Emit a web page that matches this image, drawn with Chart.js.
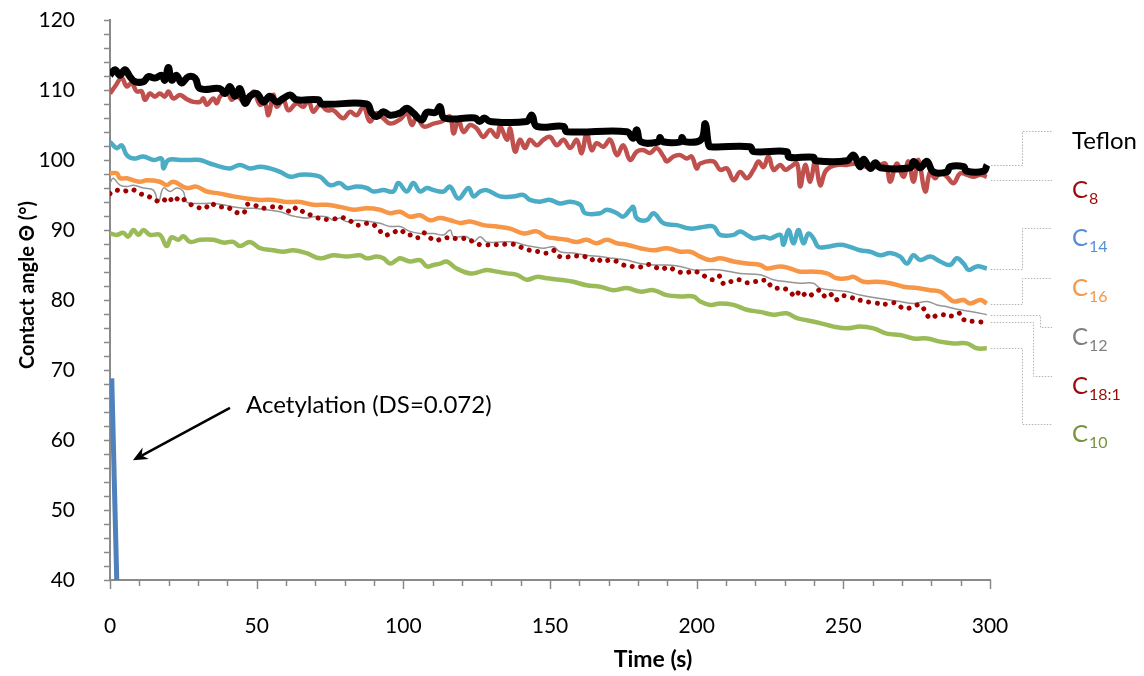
<!DOCTYPE html>
<html lang="en">
<head>
<meta charset="UTF-8" />
<title>Contact angle vs time</title>
<script src="https://cdn.jsdelivr.net/npm/chart.js"></script>
<style>
  html, body { margin: 0; padding: 0; background: #fff; }
  #wrap { width: 1144px; height: 676px; position: relative; }
</style>
</head>
<body>
<div id="wrap"><canvas id="grafik"></canvas></div>
<script>
// time (s) and contact angle (deg), one pair of arrays per sample
const teflonT = [0,1.7,3.4,5.1,6.8,8.5,11.4,13.1,15.3,17.6,18.7,19.9,21,22.7,24.4,26.7,29,30.7,37.5,39.2,40.9,42.6,44.3,46,47.7,50,52.3,54.5,56.8,59.1,61.4,63.6,71,72.2,87.5,89.2,90.9,93.2,95.5,98.9,101.2,103.4,106.3,108,111,112.5,114,124.5,126,127.6,129.6,142,143.8,145.5,154.6,155.7,176.2,178.4,179.6,181,187,187.5,188.5,194.5,195,196,201.5,202.9,204,204.6,218.2,219.4,230.7,231.5,239.8,240.5,251.2,253.5,255.7,256.9,259.2,260.9,262.6,272.8,274,276.2,278.5,280.7,285.3,286.4,291,292,297.8,299];
const teflonV = [112.1,112.9,112.1,112.9,111.9,111.2,111.2,111.9,111.7,112.1,111.4,113.2,111.4,112.1,111.0,111.9,111.7,110.2,110.2,109.5,110.5,109.1,110.2,108.1,109.1,109.5,108.3,109.1,108.3,108.8,109.3,108.6,108.6,108.0,108.0,106.7,106.2,106.9,106.4,106.7,107.4,106.7,105.7,106.8,106.8,107.6,106.0,106.0,105.5,106.0,105.5,105.5,106.4,104.8,104.8,104.05,104.05,103.1,104.3,102.6,102.6,103.2,102.6,102.6,103.2,102.6,102.9,105.2,102.3,101.9,101.9,101.2,101.2,100.4,100.4,99.9,99.9,100.7,99.05,100.1,98.8,99.6,98.9,98.9,99.8,98.9,99.8,98.3,98.3,99.05,99.05,98.4,98.4,99.3];

const c8T = [0,1.7,4,5.7,7.4,9.1,10.8,11.9,13.6,15.3,17,18.7,19.9,21.6,23.9,26.1,28.4,30.7,31.8,33,35.2,36.4,37.5,39.8,41.5,43.2,44.3,46.6,48.9,51.1,52.8,54,55.7,56.8,59.1,60.8,63.6,65.9,67.6,69.3,71.6,73.9,76.1,79.5,81.8,84.1,86.4,88.6,90.9,93.2,95.5,98.9,101.2,102.9,104.6,106.9,110.3,113.1,115.9,117.1,118.8,120.5,122.8,125,127.3,129.6,131.9,133,135.3,136.4,138.1,139.8,141.5,143.2,145.5,147.8,150,152.3,154.6,156.9,159.1,160.8,162.5,164.2,165.9,168.2,170.5,172.8,175,177.3,179.6,181.9,184.1,186.4,188.7,189.8,192.1,194.4,196.6,198.3,200,201.2,205.7,208,210.3,212.6,214.8,217.1,219.4,221.1,222.8,224.5,226.2,228.5,230.2,231.9,234.2,235.3,237,238.7,240.4,242.1,243.8,245.5,247.8,251.2,254.6,258,261.4,264.3,266,268.2,270.5,272.2,273.9,275.6,277.9,279.6,281.3,283,285.3,287.6,289.8,292.1,294.4,296.7,298.9];
const c8V = [109.5,110.5,111.7,110.5,111.0,109.8,109.8,108.6,109.5,109.05,109.5,109.05,109.8,108.8,109.3,108.7,108.3,108.3,108.8,107.9,108.8,108.1,109.05,109.8,108.6,109.5,108.8,108.1,109.8,107.9,108.1,106.4,109.3,107.6,108.6,107.1,108.1,107.6,108.6,106.9,107.9,107.1,107.1,105.95,106.9,106.4,107.6,105.5,106.7,105.95,105.2,105.8,106.7,105.0,106.2,104.8,105.2,105.5,106.2,103.8,105.7,104.0,105.0,104.5,103.3,104.3,103.3,104.8,102.9,104.5,101.2,102.9,101.7,102.9,102.1,102.9,103.3,102.1,102.9,101.7,102.9,101.0,103.8,101.4,102.4,101.9,102.9,100.7,102.1,100.0,101.2,101.4,101.0,101.7,100.5,99.8,100.5,100.7,100.2,100.5,98.8,99.5,99.8,98.6,98.8,97.1,98.3,97.4,98.6,99.8,99.0,100.5,98.6,99.3,98.6,99.0,99.5,96.2,99.3,96.9,99.8,96.4,98.3,99.0,99.3,99.3,99.5,99.0,99.0,99.5,96.9,99.5,97.6,99.8,96.9,100.0,95.5,98.3,97.4,98.3,97.6,96.7,98.1,97.9,97.6,97.9,97.6];

const c14T = [0,2.3,4,5.7,8,11.4,14.8,17.6,18.2,19.9,23.9,27.3,30.7,34.1,37.5,40.9,44.3,47.7,51.1,54.5,58,61.4,64.8,68.2,71.6,75,78.4,80.7,84.1,87.5,89.8,93.2,96.6,98.3,101.2,103.4,105.7,108,110.3,113.7,115.9,118.8,122.2,123.9,126.2,128.4,133,137.5,140.9,143.2,146.6,150,153.4,156.9,160.3,162,167.1,169.4,172.8,175,177.3,178.4,179.6,183,185.3,188.7,193.2,197.8,201.2,205.7,208,212.6,214.8,217.1,219.4,222.8,225.1,228.5,229.6,231.3,233,234.7,236.4,238.1,239.8,241.5,244.4,248.9,252.3,255.7,259.2,262.6,266,269.4,271.7,273.9,276.2,279.6,283,286.4,288.7,291,292.7,295.5,298.9];
const c14V = [102.6,101.7,102.1,100.7,100.2,100.5,100.0,100.2,98.8,100.0,100.0,100.0,100.0,99.5,99.05,98.8,99.3,98.8,99.05,98.8,98.3,97.6,97.9,97.9,97.6,96.4,96.7,96.0,96.2,96.0,95.5,95.7,95.5,96.7,95.5,96.7,95.5,96.0,95.7,95.5,96.2,94.5,96.0,94.8,95.5,95.7,94.8,94.8,95.0,94.3,94.05,94.3,93.8,94.05,93.6,92.4,92.4,92.9,92.4,91.9,92.9,93.3,91.7,91.4,92.4,90.95,90.7,90.2,90.35,90.5,89.3,89.3,89.8,89.3,88.8,89.05,88.8,89.3,87.9,90.0,88.1,90.0,88.1,89.5,88.8,87.6,87.6,87.9,87.6,87.1,86.9,86.4,86.7,86.2,85.2,86.4,85.7,86.2,85.5,85.0,85.95,85.2,84.3,84.8,84.5];

const c16T = [0,2.3,3.4,5.7,8,10.2,12.5,17,19.3,21.6,26.1,29.5,33,37.5,42,46.6,51.1,55.7,60.2,64.8,69.3,73.9,78.4,83,87.5,92,95.5,98.9,102.3,105.7,109.1,112.5,116,119.4,122.8,127.3,131.9,136.4,141,145.5,148.9,152.3,155.7,159.1,162.5,165.9,169.4,172.8,176.2,180.7,185.3,189.8,194.4,197.8,201.2,204.6,208,212.6,217.1,221.7,223.9,228.5,231.9,235.3,239.8,244.4,247.8,251.2,253.5,256.9,261.4,266,270.5,275.1,279.6,283,285.3,287.6,291,293.2,296.7,298.9];
const c16V = [98.1,98.1,97.4,97.4,97.1,96.9,97.1,96.9,96.4,96.9,96.0,96.2,95.5,95.2,94.8,94.5,94.3,94.3,94.0,94.0,93.6,93.6,93.3,92.9,93.1,92.9,92.4,92.6,91.9,92.1,91.4,91.7,91.4,91.0,91.2,90.7,90.5,90.2,89.5,89.8,89.0,88.8,88.6,88.3,88.6,88.1,88.6,88.1,87.9,87.4,87.1,87.4,86.9,86.9,86.2,85.7,85.95,85.5,85.2,85.0,84.5,84.8,84.5,84.05,84.05,83.8,83.1,83.1,83.3,82.6,82.6,82.4,81.9,81.7,81.4,81.2,80.5,79.8,80.0,79.5,80.0,79.5];

const c12T = [0,1.1,3.4,5.7,8,11.4,14.8,16.5,18.2,20.5,22.7,25,26.1,29.5,35.2,38.6,42,45.5,48.9,53.4,58,61.4,63.6,67,69.3,73.9,76.1,78.4,80.7,84.1,88.6,92,95.5,98.9,102.3,105.7,110.3,113.7,116,117.1,121.6,123.9,126.2,128.4,133,137.5,141,144.4,147.8,151.2,153.4,158,162.5,167.1,171.6,176.2,180.7,185.3,189.8,194.4,198.9,201.2,208,214.8,221.7,226.2,230.7,235.3,239.8,242.1,246.7,251.2,255.7,262.6,269.4,273.9,278.5,281.9,285.3,289.8,294.4,298.9];
const c12V = [96.7,97.4,96.4,96.2,96.4,96.0,95.7,94.0,96.0,95.5,96.0,95.5,94.0,93.8,93.8,93.6,93.3,93.1,93.1,92.9,92.6,92.1,91.9,91.7,91.9,91.9,91.4,91.7,91.2,91.4,91.2,90.95,90.5,90.5,89.8,89.5,89.5,89.3,90.0,89.05,89.05,88.3,89.05,88.3,88.3,88.3,87.9,87.6,87.4,87.6,86.9,86.7,86.4,86.2,85.95,85.7,85.2,85.0,85.0,84.8,84.3,84.3,84.3,83.8,83.6,82.9,82.6,82.4,82.4,81.7,81.4,81.2,80.7,80.2,79.8,79.5,79.8,79.3,79.05,78.6,78.3,77.9];

const c18T = [0,1.7,4.5,7.4,10.2,13.1,15.3,17.6,19.9,21.6,23.9,26.4,29.5,32.4,34.1,36.9,39.8,42.6,45.5,46.6,48.9,51.7,54.5,58.5,61.9,63.6,65.9,68.7,71,75.6,78.4,81.2,84.1,88.6,91.5,93.2,96,98.9,101.2,103.4,105.1,106.9,109.1,110.8,114.8,119.4,121.6,123.9,126.2,131.9,136.4,138.1,140.9,143.2,146.1,148.9,151.2,153.4,159.1,161.4,163.7,165.9,167.7,170.5,172.8,175,177.9,180.7,183,185.8,188.1,190.4,193.2,196.1,198.9,201.2,204,206.3,208,209.2,211.4,214.3,216.5,219.4,223.9,225.1,226.2,228.5,231.3,233.6,235.3,237.6,239.8,242.1,243.8,245.5,247.2,249.5,252.3,256.3,260.3,265.4,267.7,270.5,273.4,276.2,279.6,282.4,288.1,289.8,291,296.1,298.9];
const c18V = [95.2,95.7,95.5,95.8,95.2,94.8,94.3,94.0,94.7,94.0,94.7,93.9,93.3,93.1,93.8,93.3,93.3,92.6,92.4,93.6,93.6,93.1,93.3,93.2,92.6,93.2,92.6,92.1,91.7,91.5,91.8,91.5,90.7,90.95,90.2,89.3,89.5,90.0,89.3,89.3,88.9,89.6,88.9,88.5,88.9,88.7,88.8,88.3,87.9,87.9,88.0,87.9,87.4,87.1,86.9,86.7,87.1,86.2,86.3,86.3,85.7,86.0,85.5,85.7,85.5,85.0,84.8,84.7,85.1,84.7,84.4,84.7,84.1,83.9,84.1,83.8,83.1,82.9,83.4,82.3,82.6,82.9,82.5,82.6,82.8,82.1,81.7,81.7,81.4,80.5,81.3,80.5,80.9,81.4,80.5,80.9,80.0,80.6,80.4,79.9,79.6,79.4,79.6,78.8,78.95,79.3,77.4,77.9,77.7,78.1,77.2,76.9,76.8];

const c10T = [0,2.3,4.5,6.2,8,9.7,11.4,13.6,17,19.3,21,23.3,25,27.3,30.7,35.2,38.6,42,44.3,47.7,51.1,55.7,59.1,62.5,67,71.6,76.1,80.7,85.2,87.5,90.9,93.2,95.5,97.7,98.9,102.3,105.7,108,110.3,112.5,114.8,118.2,122.8,126.2,128.4,131.9,135.3,138.7,142.1,145.5,148.9,153.4,158,162.5,167.1,171.6,176.2,180.7,185.3,189.8,194.4,198.9,201.2,204.6,208,212.6,217.1,221.7,226.2,230.7,234.2,237.6,242.1,246.7,251.2,255.7,260.3,264.8,269.4,273.9,278.5,283,287.6,292.1,295.5,298.9];
const c10V = [89.5,89.3,89.6,89.05,90.0,89.3,90.0,89.3,89.3,87.7,88.95,88.6,89.1,88.3,88.6,88.6,88.2,88.3,87.7,88.3,87.4,87.1,86.9,87.1,86.7,85.95,86.4,86.2,86.4,85.95,86.2,85.95,85.2,85.7,85.95,85.5,85.7,84.8,85.0,85.2,85.5,84.5,83.8,84.05,84.3,84.05,83.8,83.6,82.9,83.3,83.1,82.9,82.6,82.1,81.9,81.4,81.7,81.2,81.4,80.7,80.5,80.5,79.8,79.3,79.5,79.3,78.6,78.3,77.9,78.1,77.4,77.1,76.7,76.2,75.95,76.2,75.95,75.2,75.0,74.5,74.5,74.05,73.8,73.8,73.1,73.1];

const acetT = [0.6, 2.3];
const acetV = [68.8, 40];

const xTicks = [0, 50, 100, 150, 200, 250, 300];
const yTicks = [40, 50, 60, 70, 80, 90, 100, 110, 120];

function pts(t, v) {
    return t.map((x, i) => ({ x: x, y: v[i] }));
}

Chart.defaults.font.family = 'Lato, "Open Sans", sans-serif';

// right-hand labels: elbow = x of the dotted leader's vertical part, textY = leader end
const sideLabels = [
    { ds: 0, main: 'Teflon', sub: '', color: '#000000', elbow: 1022, textY: 131 },
    { ds: 1, main: 'C', sub: '8', color: '#9c0a0a', elbow: null, textY: null },
    { ds: 2, main: 'C', sub: '14', color: '#558ed5', elbow: 1022, textY: 228 },
    { ds: 3, main: 'C', sub: '16', color: '#f79646', elbow: 1022, textY: 278 },
    { ds: 4, main: 'C', sub: '12', color: '#7f7f7f', elbow: 1040, textY: 327 },
    { ds: 5, main: 'C', sub: '18:1', color: '#9c0a0a', elbow: 1033, textY: 376 },
    { ds: 6, main: 'C', sub: '10', color: '#77933c', elbow: 1022, textY: 424 }
];

const extras = {
    id: 'extras',
    afterDraw(chart) {
        const ctx = chart.ctx;
        const xs = chart.scales.x, ys = chart.scales.y;
        const area = chart.chartArea;
        ctx.save();

        // tick marks (minor every 2 on y, every 10 on x)
        ctx.strokeStyle = '#8a8a8a';
        ctx.lineWidth = 1.5;
        ctx.beginPath();
        for (let v = 40; v <= 120; v += 2) {
            const y = Math.round(ys.getPixelForValue(v)) + 0.5;
            ctx.moveTo(area.left - 6, y);
            ctx.lineTo(area.left, y);
        }
        for (let t = 0; t <= 300; t += 10) {
            const x = Math.round(xs.getPixelForValue(t)) + 0.5;
            ctx.moveTo(x, area.bottom);
            ctx.lineTo(x, area.bottom + (t % 50 === 0 ? 9 : 6));
        }
        ctx.stroke();

        // axis titles
        ctx.fillStyle = '#000';
        ctx.textAlign = 'center';
        ctx.textBaseline = 'middle';
        ctx.font = 'bold 23px Lato';
        ctx.fillText('Time (s)', 653, 660);
        ctx.save();
        ctx.font = 'bold 20px Lato';
        ctx.translate(28, 285);
        ctx.rotate(-Math.PI / 2);
        ctx.fillText('Contact angle \u0398 (\u00b0)', 0, 0);
        ctx.restore();

        // annotation + arrow
        const tail = { x: xs.getPixelForValue(40.9), y: ys.getPixelForValue(64.6) };
        const tip = { x: xs.getPixelForValue(7.8), y: ys.getPixelForValue(57.1) };
        ctx.strokeStyle = '#000';
        ctx.lineWidth = 2.5;
        const ang = Math.atan2(tip.y - tail.y, tip.x - tail.x);
        ctx.beginPath();
        ctx.moveTo(tail.x, tail.y);
        ctx.lineTo(tip.x - 10 * Math.cos(ang), tip.y - 10 * Math.sin(ang));
        ctx.stroke();
        ctx.beginPath();
        ctx.moveTo(tip.x, tip.y);
        ctx.lineTo(tip.x - 16 * Math.cos(ang - 0.42), tip.y - 16 * Math.sin(ang - 0.42));
        ctx.lineTo(tip.x - 10 * Math.cos(ang), tip.y - 10 * Math.sin(ang));
        ctx.lineTo(tip.x - 16 * Math.cos(ang + 0.42), tip.y - 16 * Math.sin(ang + 0.42));
        ctx.closePath();
        ctx.fillStyle = '#000';
        ctx.fill();
        ctx.font = '24px Lato';
        ctx.textAlign = 'left';
        ctx.fillText('Acetylation (DS=0.072)', xs.getPixelForValue(46.4), ys.getPixelForValue(65));

        // dotted leaders and series names
        sideLabels.forEach(l => {
            const data = chart.data.datasets[l.ds].data;
            const last = data[data.length - 1];
            const x0 = xs.getPixelForValue(last.x) + 4;
            const y0 = Math.round(ys.getPixelForValue(last.y)) + 0.5;
            const yEnd = l.textY === null ? y0 + 3 : l.textY + 0.5;
            ctx.strokeStyle = '#b4b4b4';
            ctx.lineWidth = 1;
            ctx.setLineDash([1.5, 1.5]);
            ctx.beginPath();
            if (l.elbow !== null) {
                ctx.moveTo(x0, y0);
                ctx.lineTo(l.elbow + 0.5, y0);
                ctx.lineTo(l.elbow + 0.5, yEnd);
            } else {
                ctx.moveTo(x0, yEnd);
            }
            ctx.lineTo(1052, yEnd);
            ctx.stroke();
            ctx.setLineDash([]);

            const base = yEnd + 17;
            ctx.fillStyle = l.color;
            ctx.textBaseline = 'alphabetic';
            ctx.font = '24px Lato';
            ctx.fillText(l.main, 1072, base);
            if (l.sub) {
                const w = ctx.measureText(l.main).width;
                ctx.font = '16px Lato';
                ctx.fillText(l.sub, 1072 + w + 1, base + 6);
            }
        });
        ctx.restore();
    }
};

const lineSet = (label, t, v, color, width, order) => ({
    label: label,
    data: pts(t, v),
    borderColor: color,
    backgroundColor: color,
    borderWidth: width,
    pointRadius: 0,
    tension: 0.4,
    fill: false,
    order: order
});

const dotted = lineSet('C18:1', c18T, c18V, '#a00000', 5, 2);
dotted.borderDash = [0.01, 8.5];
dotted.borderCapStyle = 'round';

const grafik = new Chart(document.getElementById('grafik'), {
    type: 'line',
    data: {
        datasets: [
            lineSet('Teflon', teflonT, teflonV, '#000000', 7, 0),
            lineSet('C8', c8T, c8V, '#c0504d', 4.5, 1),
            lineSet('C14', c14T, c14V, '#4bacc6', 4.5, 4),
            lineSet('C16', c16T, c16V, '#f79646', 4.5, 5),
            lineSet('C12', c12T, c12V, '#959595', 1.5, 3),
            dotted,
            lineSet('C10', c10T, c10V, '#9bbb59', 4.5, 6),
            lineSet('Acetylation', acetT, acetV, '#4f81bd', 5, 7)
        ]
    },
    options: {
        responsive: true,
        maintainAspectRatio: false,
        animation: false,
        layout: { padding: { top: 20, right: 154, bottom: 0, left: 0 } },
        plugins: { legend: { display: false }, tooltip: { enabled: false } },
        scales: {
            x: {
                type: 'linear',
                min: 0,
                max: 300,
                afterFit: s => { s.height = 96; s.paddingLeft = 0; s.paddingRight = 0; },
                afterBuildTicks: s => { s.ticks = xTicks.map(v => ({ value: v })); },
                grid: { display: false },
                border: { display: true, color: '#8a8a8a', width: 2 },
                ticks: { color: '#000', font: { size: 21 }, padding: 26, maxRotation: 0 }
            },
            y: {
                min: 40,
                max: 120,
                afterFit: s => { s.width = 110; s.paddingTop = 0; s.paddingBottom = 0; },
                afterBuildTicks: s => { s.ticks = yTicks.map(v => ({ value: v })); },
                grid: { display: false },
                border: { display: true, color: '#8a8a8a', width: 2 },
                ticks: { color: '#000', font: { size: 21 }, padding: 27 }
            }
        }
    },
    plugins: [extras]
});
</script>
</body>
</html>
